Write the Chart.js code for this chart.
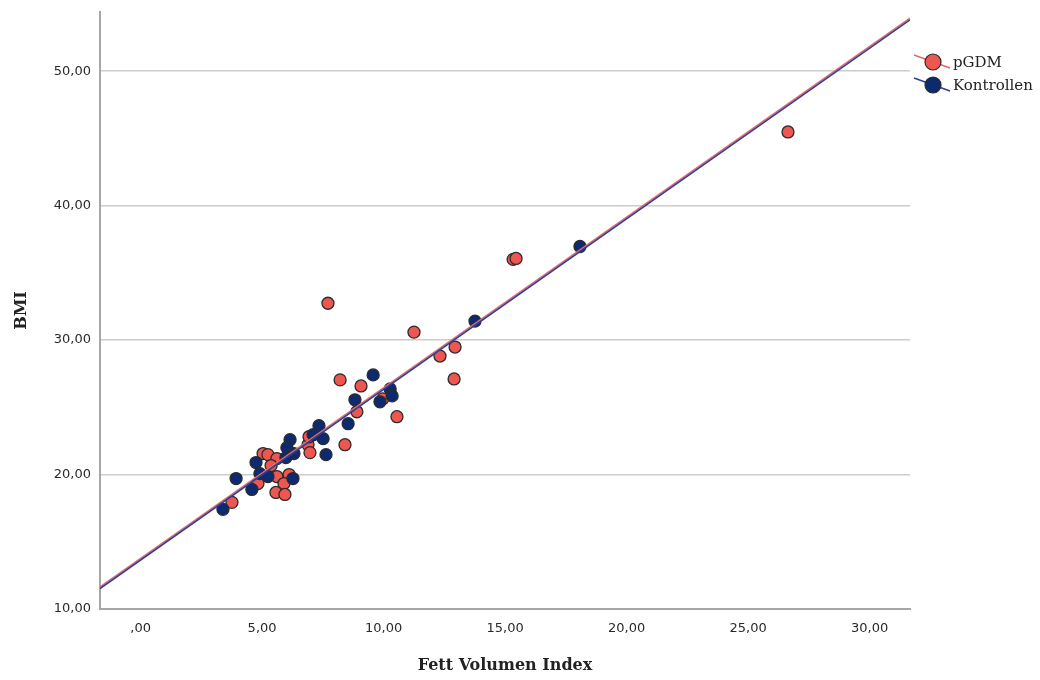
<!DOCTYPE html>
<html>
<head>
<meta charset="utf-8">
<script src="https://cdn.jsdelivr.net/npm/chart.js@4/dist/chart.umd.min.js"></script>
<style>
  body { margin: 0; background: #fff; }
  canvas { display: block; }
</style>
</head>
<body>
<canvas id="scatter" width="1040" height="680"></canvas>
<script>
"use strict";

// pGDM group (Fett Volumen Index / BMI)
const pgdmFvi = [26.64, 15.33, 15.45, 7.71, 11.25, 12.94, 12.32, 8.21, 9.07, 12.90,
  8.90, 9.97, 10.55, 8.41, 6.89, 6.97, 6.93, 5.04, 5.24, 5.61,
  5.37, 5.61, 6.11, 5.90, 4.83, 5.57, 5.94, 3.76];
const pgdmBmi = [45.48, 36.00, 36.07, 32.74, 30.59, 29.48, 28.81, 27.04, 26.59, 27.11,
  24.67, 25.63, 24.30, 22.22, 22.22, 21.63, 22.81, 21.56, 21.48, 21.19,
  20.67, 19.85, 20.00, 19.33, 19.33, 18.67, 18.52, 17.93];

// Kontrollen group
const kontrollenFvi = [18.08, 13.76, 9.57, 10.27, 10.35, 9.85, 8.82, 8.54, 7.34, 7.51,
  7.10, 6.15, 6.02, 6.31, 5.98, 7.63, 4.75, 4.91, 5.24, 3.93,
  6.27, 4.58, 3.39];
const kontrollenBmi = [36.96, 31.41, 27.41, 26.37, 25.85, 25.41, 25.56, 23.78, 23.63, 22.67,
  22.96, 22.59, 22.00, 21.56, 21.26, 21.48, 20.89, 20.07, 19.85, 19.70,
  19.70, 18.89, 17.41];

// fit lines, read at the left and right edge of the plot
const fitFvi = [-1.67, 31.66];
const fitPgdmBmi = [11.64, 53.94];
const fitKontrollenBmi = [11.52, 53.82];

const xTicks = [0, 5, 10, 15, 20, 25, 30];
const xTickLabels = [",00", "5,00", "10,00", "15,00", "20,00", "25,00", "30,00"];
const yTicks = [10, 20, 30, 40, 50];
const yTickLabels = ["10,00", "20,00", "30,00", "40,00", "50,00"];

const RED = "#ee5652";
const BLUE = "#0d2a70";
const RED_LINE = "#e46a6a";
const BLUE_LINE = "#2d3f9c";

const toPoints = (xs, ys) => xs.map((x, i) => ({ x, y: ys[i] }));

// legend drawn to the right of the plot, marker with a line through it
const legendPlugin = {
  id: "spssLegend",
  afterDraw(chart) {
    const { ctx, chartArea } = chart;
    const items = [
      { label: "pGDM", fill: RED, line: RED_LINE },
      { label: "Kontrollen", fill: BLUE, line: BLUE_LINE },
    ];
    const cx = chartArea.right + 23;
    ctx.save();
    items.forEach((item, i) => {
      const cy = 62 + i * 23;
      ctx.strokeStyle = item.line;
      ctx.lineWidth = 1.5;
      ctx.beginPath();
      ctx.moveTo(cx - 19, cy - 7);
      ctx.lineTo(cx + 17, cy + 6);
      ctx.stroke();
      ctx.fillStyle = item.fill;
      ctx.strokeStyle = "#2b2b2b";
      ctx.lineWidth = 1.2;
      ctx.beginPath();
      ctx.arc(cx, cy, 8, 0, Math.PI * 2);
      ctx.fill();
      ctx.stroke();
      ctx.fillStyle = "#222";
      ctx.font = "15px 'DejaVu Serif'";
      ctx.textBaseline = "middle";
      ctx.textAlign = "left";
      ctx.fillText(item.label, cx + 20, cy + 1);
    });
    ctx.restore();
  },
};

const pointStyle = {
  pointRadius: 6,
  pointHoverRadius: 6,
  borderColor: "#2b2b2b",
  borderWidth: 1.3,
  showLine: false,
};

new Chart(document.getElementById("scatter"), {
  type: "scatter",
  data: {
    datasets: [
      {
        type: "line",
        label: "fit pGDM",
        data: toPoints(fitFvi, fitPgdmBmi),
        borderColor: RED_LINE,
        borderWidth: 1.6,
        pointRadius: 0,
        fill: false,
        order: 1,
      },
      {
        type: "line",
        label: "fit Kontrollen",
        data: toPoints(fitFvi, fitKontrollenBmi),
        borderColor: BLUE_LINE,
        borderWidth: 1.6,
        pointRadius: 0,
        fill: false,
        order: 0,
      },
      {
        label: "Kontrollen",
        data: toPoints(kontrollenFvi, kontrollenBmi),
        backgroundColor: BLUE,
        order: 2,
        ...pointStyle,
      },
      {
        label: "pGDM",
        data: toPoints(pgdmFvi, pgdmBmi),
        backgroundColor: RED,
        order: 3,
        ...pointStyle,
      },
    ],
  },
  options: {
    responsive: false,
    devicePixelRatio: 1,
    animation: false,
    layout: { padding: { top: 12, right: 130, bottom: 0, left: 0 } },
    plugins: {
      legend: { display: false },
      tooltip: { enabled: false },
    },
    scales: {
      x: {
        type: "linear",
        min: fitFvi[0],
        max: fitFvi[1],
        afterFit: (scale) => {
          scale.height = 71;
          scale.paddingLeft = 0;
          scale.paddingRight = 0;
        },
        afterBuildTicks: (scale) => { scale.ticks = xTicks.map((v) => ({ value: v })); },
        grid: { display: false, drawTicks: false },
        border: { display: true, color: "#a6a6a6", width: 2 },
        ticks: {
          padding: 12,
          color: "#2a2a2a",
          font: { family: "'DejaVu Sans'", size: 13 },
          callback: (v, i) => xTickLabels[i],
        },
        title: {
          display: true,
          text: "Fett Volumen Index",
          color: "#222",
          font: { family: "'DejaVu Serif'", size: 16, weight: "bold" },
          padding: { top: 0, bottom: 5 },
        },
      },
      y: {
        type: "linear",
        min: 10,
        max: 54.4,
        afterFit: (scale) => {
          scale.width = 100;
          scale.paddingTop = 0;
          scale.paddingBottom = 0;
        },
        afterBuildTicks: (scale) => { scale.ticks = yTicks.map((v) => ({ value: v })); },
        grid: { color: "#cccccc", lineWidth: 1.5, drawTicks: false },
        border: { display: true, color: "#a6a6a6", width: 2 },
        ticks: {
          padding: 9,
          color: "#2a2a2a",
          font: { family: "'DejaVu Sans'", size: 13 },
          callback: (v, i) => yTickLabels[i],
        },
        title: {
          display: true,
          text: "BMI",
          color: "#222",
          font: { family: "'DejaVu Serif'", size: 16, weight: "bold" },
          padding: { top: 12, bottom: 0 },
        },
      },
    },
  },
  plugins: [legendPlugin],
});
</script>
</body>
</html>
